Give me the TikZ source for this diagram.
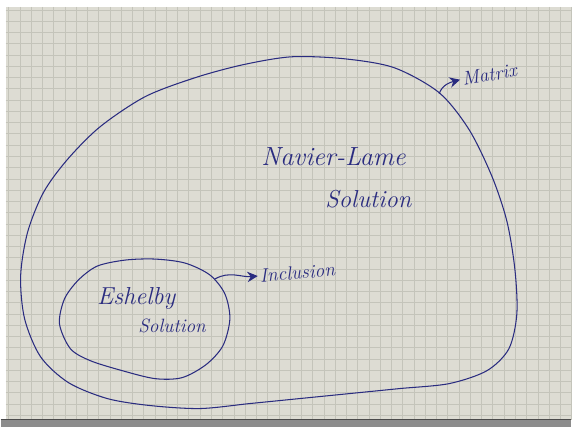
\documentclass[tikz,border=0pt]{standalone}
\usepackage{color}
\definecolor{paper}{RGB}{221, 220, 211}
\definecolor{gridline}{RGB}{196, 196, 186}
\definecolor{ink}{RGB}{42, 44, 128}
\usepackage{tikz}
\usetikzlibrary{arrows,arrows.meta}
\tikzstyle{hand} = [text=ink,font=\itshape\fontsize{15}{17}\selectfont,inner sep=1pt]
\tikzstyle{small} = [text=ink,font=\itshape\fontsize{11}{13}\selectfont,inner sep=1pt]
\tikzstyle{pen} = [draw=ink,semithick]

\begin{document}
\begin{tikzpicture}[x=0.02cm, y=-0.02cm, > = {Stealth[length=6pt,width=6pt,inset=2pt]}, line join=round]

    % sheet of squared paper
    \fill[white] (0,0) rectangle (572,429);
    \fill[paper] (5,7) rectangle (572,421);
    \foreach \x in {0,...,50}
      \draw[gridline, thin] ({8+11.3*\x},7) -- ({8+11.3*\x},421);
    \foreach \y in {0,...,36}
      \draw[gridline, thin] (5,{10+11.3*\y}) -- (572,{10+11.3*\y});
    \fill[black!45] (0,421) rectangle (572,429);
    \draw[black!70, thick] (0,421) -- (572,421);

    % matrix and inclusion
    \draw[pen] plot[smooth cycle] coordinates {
      (292,57) (345,59) (395,68) (440,93) (470,130) (493,177)
      (508,222) (516,270) (518,315) (510,350) (488,372) (450,385)
      (400,390) (350,395) (300,400) (250,405) (200,410) (150,407)
      (107,400) (68,384) (40,358) (24,320) (20,277) (27,233)
      (43,193) (67,160) (100,127) (145,97) (195,78) (243,65)};
    \draw[pen] plot[smooth cycle] coordinates {
      (97,267) (125,261) (155,260) (185,264) (210,276) (225,295)
      (230,320) (223,347) (206,366) (182,379) (155,380) (122,372)
      (90,362) (70,350) (59,325) (64,300) (78,281)};

    \coordinate (matedge) at (440,94);
    \coordinate (incedge) at (215,280);

    \node[hand]  (navier)   at (334,157) {Navier-Lame};
    \node[hand, font=\itshape\fontsize{14}{16}\selectfont] (solout) at (369,200) {Solution};
    \node[hand, font=\itshape\fontsize{14}{16}\selectfont] (eshelby) at (136,300) {Eshelby};
    \node[small] (solin)    at (172,327) {Solution};
    \node[small, anchor=west, rotate=10] (matrix)    at (461,80)  {Matrix};
    \node[small, anchor=west, rotate=5]  (inclusion) at (258,277) {Inclusion};

    \draw[pen, ->] (matedge) to[out=70, in=195] (matrix.west);
    \draw[pen, ->] (incedge) to[out=30, in=185] (inclusion.west);
\end{tikzpicture}
\end{document}
